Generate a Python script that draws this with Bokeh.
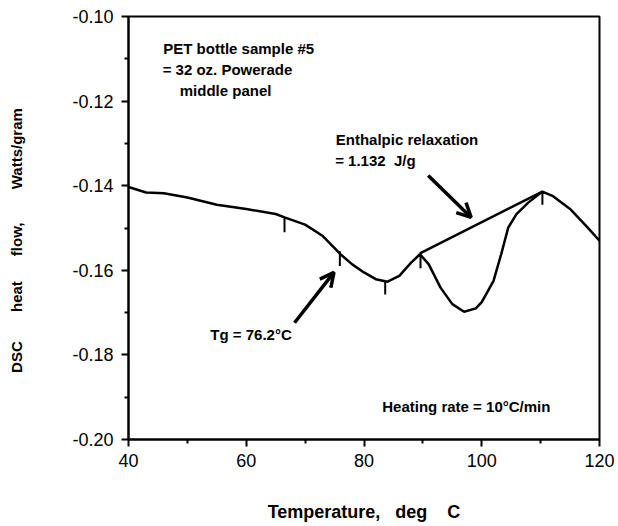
from bokeh.plotting import figure
from bokeh.models import (FixedTicker, NumeralTickFormatter, Arrow, OpenHead,
                          Label, Range1d)
from bokeh.embed import file_html
from bokeh.resources import INLINE

# ---- data ----
temp = [40, 43, 46, 50, 55, 60, 65, 66.5, 70, 73, 76, 78, 80, 82, 84, 86, 88, 89.5,
        91, 93, 95, 97, 99, 100, 102, 103.3, 104.5, 105.9, 107.9, 110.3, 112, 115, 118, 120]
heat_flow = [-0.1403, -0.1416, -0.1418, -0.1428, -0.1445, -0.1455, -0.1467, -0.1475,
             -0.1492, -0.1519, -0.1562, -0.1586, -0.1605, -0.1621, -0.1627, -0.1613,
             -0.1582, -0.1562, -0.1586, -0.1641, -0.1680, -0.1698, -0.1690, -0.1675,
             -0.1625, -0.1562, -0.1499, -0.1467, -0.1440, -0.1414, -0.1424, -0.1455,
             -0.1499, -0.1530]

# construction baseline for enthalpic relaxation
base_t = [89.5, 110.3]
base_hf = [-0.1560, -0.1414]

# small vertical marker ticks on the curve
mark_t = [66.5, 75.9, 83.6, 89.6, 110.3]
mark_top = [-0.1475, -0.1555, -0.1627, -0.1560, -0.1414]
mark_bot = [-0.1510, -0.1590, -0.1657, -0.1595, -0.1445]

# arrows (tail -> head)
arrow_x0 = [68.2, 90.9]
arrow_y0 = [-0.1724, -0.1376]
arrow_x1 = [74.9, 98.2]
arrow_y1 = [-0.1605, -0.1475]

# annotations
NB = "\u00a0"
note_text = ["PET bottle sample #5",
             "=" + " 32 oz. Powerade",
             "middle panel",
             "Enthalpic relaxation",
             "=" + " 1.132" + NB * 2 + "J/g",
             "Tg = 76.2\u00b0C",
             "Heating rate = 10\u00b0C/min"]
note_x = [45.9, 45.8, 48.7, 75.2, 75.1, 53.9, 83.1]
note_y = [-0.1075, -0.1125, -0.1175, -0.1290, -0.1340, -0.1751, -0.1923]

x_ticks = [40, 60, 80, 100, 120]
x_minor = [50, 70, 90, 110]
y_ticks = [-0.20, -0.18, -0.16, -0.14, -0.12, -0.10]
y_minor = [-0.19, -0.17, -0.15, -0.13, -0.11]

FONT = "Liberation Sans"

p = figure(width=616, height=524, output_backend="svg", toolbar_location=None,
           x_range=Range1d(40, 120), y_range=Range1d(-0.20, -0.10),
           min_border_left=128, min_border_right=17, min_border_top=16,
           min_border_bottom=84)
p.grid.visible = False
p.outline_line_color = "black"
p.outline_line_width = 2
p.background_fill_color = "white"
p.border_fill_color = "white"

for ax in (p.xaxis[0], p.yaxis[0]):
    ax.axis_line_width = 2
    ax.axis_line_color = "black"
    ax.major_tick_line_width = 2
    ax.minor_tick_line_width = 2
    ax.major_tick_in = 0
    ax.major_tick_out = 7
    ax.minor_tick_in = 0
    ax.minor_tick_out = 4
    ax.major_label_text_font = FONT
    ax.major_label_text_font_size = "18px"
    ax.major_label_text_color = "black"
    ax.axis_label_text_font = FONT
    ax.axis_label_text_font_style = "bold"
    ax.axis_label_text_color = "black"

p.xaxis.axis_label_text_font_size = "18px"
p.yaxis.axis_label_text_font_size = "15px"
p.xaxis.ticker = FixedTicker(ticks=x_ticks, minor_ticks=x_minor)
p.yaxis.ticker = FixedTicker(ticks=y_ticks, minor_ticks=y_minor)
p.yaxis.formatter = NumeralTickFormatter(format="0.00")
p.xaxis.major_label_standoff = 7
p.yaxis.major_label_standoff = 8
p.xaxis.axis_label = "Temperature," + NB * 3 + "deg" + NB * 4 + "C"
p.yaxis.axis_label = ("DSC" + NB * 7 + "heat" + NB * 6 + "flow," + NB * 8 +
                      "Watts/gram" + NB * 6)
p.xaxis.axis_label_standoff = 32
p.yaxis.axis_label_standoff = 44

p.line(temp, heat_flow, line_color="black", line_width=2.5)
p.line(base_t, base_hf, line_color="black", line_width=2.5)
p.segment(x0=mark_t, y0=mark_top, x1=mark_t, y1=mark_bot,
          line_color="black", line_width=2)

for x0, y0, x1, y1 in zip(arrow_x0, arrow_y0, arrow_x1, arrow_y1):
    p.add_layout(Arrow(x_start=x0, y_start=y0, x_end=x1, y_end=y1,
                       line_color="black", line_width=3.5,
                       end=OpenHead(size=14, line_width=3.5, line_color="black")))

for t, x, y in zip(note_text, note_x, note_y):
    p.add_layout(Label(x=x, y=y, text=t, text_font=FONT, text_font_size="15px",
                       text_font_style="bold", text_color="black",
                       text_align="left", text_baseline="middle"))

open("out.html", "w").write(file_html(p, INLINE))
